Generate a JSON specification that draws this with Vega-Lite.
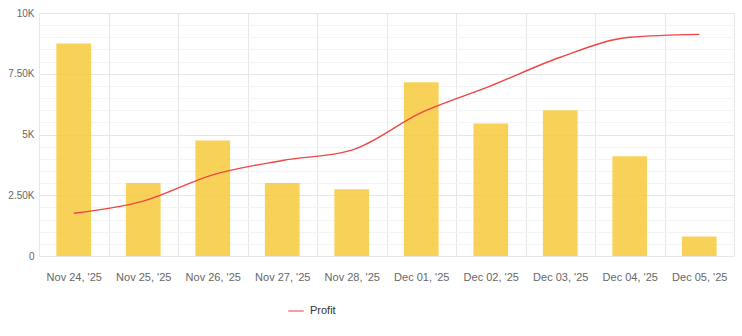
{
  "$schema": "https://vega.github.io/schema/vega-lite/v6.json",
  "width": 695,
  "height": 243,
  "autosize": {"type": "none"},
  "padding": {"left": 39, "top": 13, "right": 8, "bottom": 80},
  "background": "white",
  "config": {
    "view": {"stroke": null},
    "font": "Liberation Sans"
  },
  "data": {
    "values": [
      {"date": "Nov 24, '25", "revenue": 8750, "profit": 1760},
      {"date": "Nov 25, '25", "revenue": 3000, "profit": 2260},
      {"date": "Nov 26, '25", "revenue": 4750, "profit": 3340},
      {"date": "Nov 27, '25", "revenue": 3000, "profit": 3930},
      {"date": "Nov 28, '25", "revenue": 2750, "profit": 4360},
      {"date": "Dec 01, '25", "revenue": 7150, "profit": 5900},
      {"date": "Dec 02, '25", "revenue": 5450, "profit": 7000},
      {"date": "Dec 03, '25", "revenue": 6000, "profit": 8180},
      {"date": "Dec 04, '25", "revenue": 4100, "profit": 9000},
      {"date": "Dec 05, '25", "revenue": 800, "profit": 9120}
    ]
  },
  "encoding": {
    "x": {
      "field": "date",
      "type": "ordinal",
      "sort": null,
      "scale": {"paddingInner": 0, "paddingOuter": 0},
      "axis": {
        "title": null,
        "labelAngle": 0,
        "tickBand": "extent",
        "grid": true,
        "gridColor": "#e8e8e8",
        "ticks": false,
        "domain": false,
        "labelFontSize": 11,
        "labelColor": "#666666",
        "labelPadding": 15
      }
    }
  },
  "layer": [
    {
      "mark": {"type": "bar", "width": {"band": 0.5}, "color": "#f6c833", "opacity": 0.82},
      "encoding": {
        "y": {
          "field": "revenue",
          "type": "quantitative",
          "scale": {"domain": [0, 10000], "nice": false},
          "axis": {
            "orient": "left",
            "title": null,
            "values": [500, 1000, 1500, 2000, 3000, 3500, 4000, 4500, 5500, 6000, 6500, 7000, 8000, 8500, 9000, 9500],
            "labels": false,
            "ticks": false,
            "domain": false,
            "grid": true,
            "gridColor": "#f4f4f4"
          }
        }
      }
    },
    {
      "mark": {"type": "line", "interpolate": "monotone", "strokeWidth": 1.4},
      "encoding": {
        "y": {
          "field": "profit",
          "type": "quantitative",
          "axis": {
            "orient": "left",
            "title": null,
            "values": [0, 2500, 5000, 7500, 10000],
            "labelExpr": "datum.value == 0 ? '0' : (datum.value % 5000 == 0 ? format(datum.value / 1000, 'd') + 'K' : format(datum.value / 1000, '.2f') + 'K')",
            "ticks": false,
            "domain": false,
            "grid": true,
            "gridColor": "#e6e6e6",
            "labelPadding": 5,
            "labelFontSize": 10,
            "labelColor": "#666666"
          }
        },
        "color": {
          "datum": "Profit",
          "type": "nominal",
          "scale": {"range": ["#ef4444"]},
          "legend": {
            "title": null,
            "orient": "none",
            "legendX": 248,
            "legendY": 289,
            "symbolType": "stroke",
            "symbolSize": 240,
            "symbolStrokeWidth": 2,
            "symbolOpacity": 0.5,
            "labelFontSize": 11,
            "labelColor": "#333333",
            "labelOffset": 5
          }
        }
      }
    }
  ],
  "resolve": {"axis": {"y": "independent"}}
}
